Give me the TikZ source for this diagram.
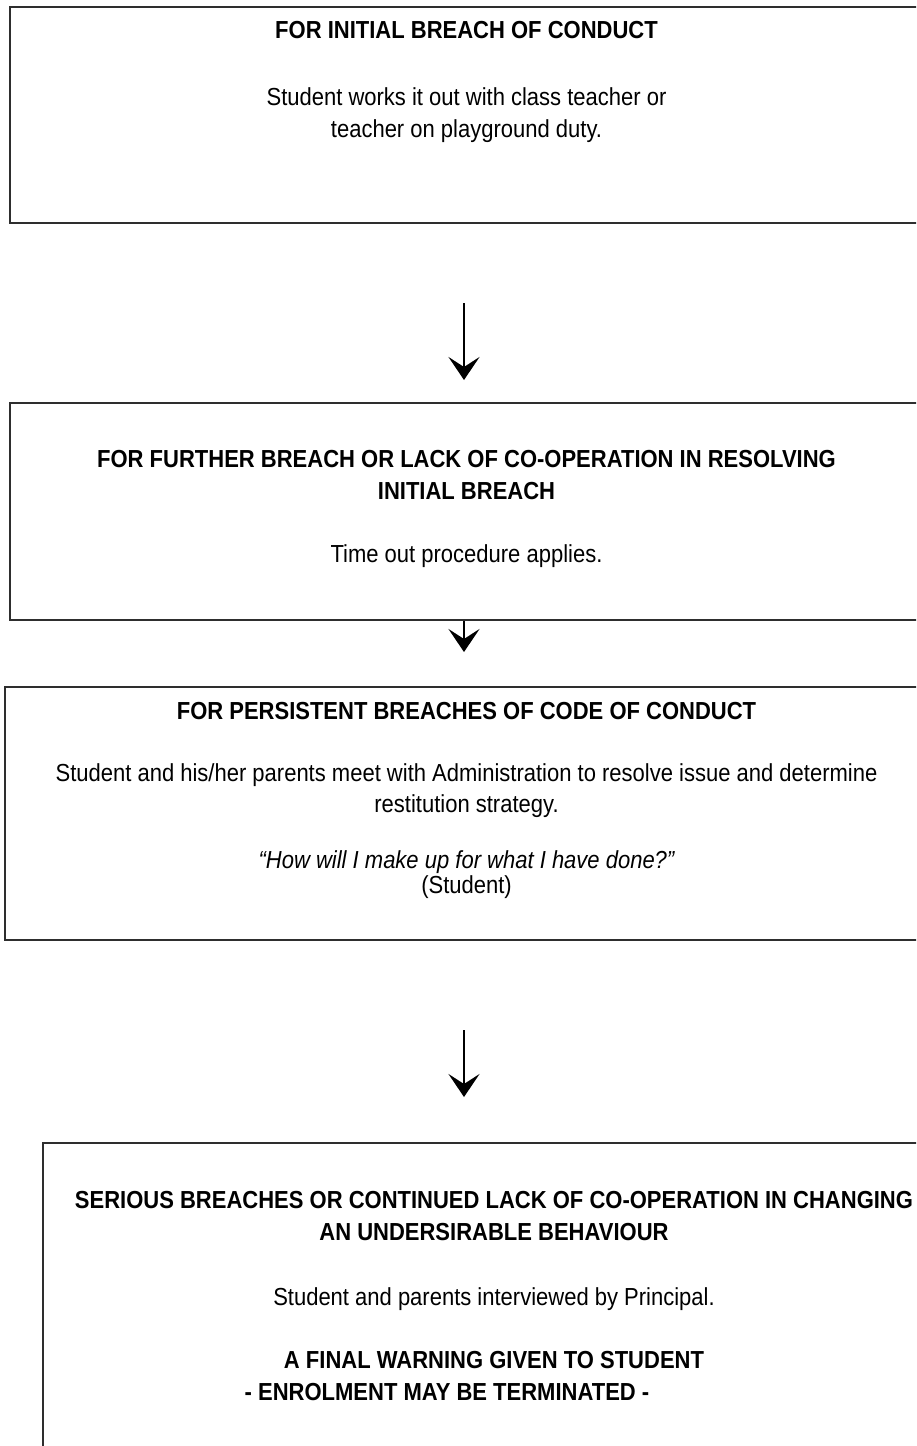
\documentclass[tikz,border=0pt]{standalone}
\usepackage{fontspec}
\setmainfont{Liberation Sans}
\usetikzlibrary{arrows.meta}
\newcommand{\vst}[1]{\scalebox{1}[1.12]{#1}}
\begin{document}
\begin{tikzpicture}[x=1pt,y=-1pt,
  box/.style={draw=black!82, line width=2.3pt, anchor=north west, inner sep=0pt, minimum width=930pt},
  txt/.style={anchor=base, inner sep=0pt, font=\fontsize{22}{32}\selectfont},
  hd/.style={anchor=base, inner sep=0pt, font=\fontsize{22}{32}\selectfont\bfseries},
  arr/.style={line width=2.8pt, -{Stealth[length=23pt,width=31pt,inset=10pt]}}]
\clip (0,0) rectangle (916,1446);
\fill[white] (0,0) rectangle (916,1446);
% boxes
\node[box, minimum height=216pt] (b1) at (9,6) {};
\node[box, minimum height=217pt] (b2) at (9,402) {};
\node[box, minimum height=253pt] (b3) at (4,686) {};
\node[box, minimum height=330pt] (b4) at (42,1142) {};
% box 1 text
\node[hd]  (t1a) at (466.5,38)  {\vst{FOR INITIAL BREACH OF CONDUCT}};
\node[txt] (t1b) at (466.5,105) {\vst{Student works it out with class teacher or}};
\node[txt] (t1c) at (466.5,137) {\vst{teacher on playground duty.}};
% box 2 text
\node[hd]  (t2a) at (466.5,467) {\vst{FOR FURTHER BREACH OR LACK OF CO-OPERATION IN RESOLVING}};
\node[hd]  (t2b) at (466.5,499) {\vst{INITIAL BREACH}};
\node[txt] (t2c) at (466.5,562) {\vst{Time out procedure applies.}};
% box 3 text
\node[hd]  (t3a) at (466.5,719) {\vst{FOR PERSISTENT BREACHES OF CODE OF CONDUCT}};
\node[txt] (t3b) at (466.5,781) {\vst{Student and his/her parents meet with Administration to resolve issue and determine}};
\node[txt] (t3c) at (466.5,812) {\vst{restitution strategy.}};
\node[txt] (t3d) at (466.5,868) {\vst{\itshape “How will I make up for what I have done?”}};
\node[txt] (t3e) at (466.5,893) {\vst{(Student)}};
% box 4 text
\node[hd]  (t4a) at (494,1208) {\vst{SERIOUS BREACHES OR CONTINUED LACK OF CO-OPERATION IN CHANGING}};
\node[hd]  (t4b) at (494,1240) {\vst{AN UNDERSIRABLE BEHAVIOUR}};
\node[txt] (t4c) at (494,1305) {\vst{Student and parents interviewed by Principal.}};
\node[hd]  (t4d) at (494,1368) {\vst{A FINAL WARNING GIVEN TO STUDENT}};
\node[hd]  (t4e) at (447,1400) {\vst{- ENROLMENT MAY BE TERMINATED -}};
% arrows
\coordinate (a1s) at (464,303);
\coordinate (a1e) at (464,380);
\coordinate (a2e) at (464,652);
\coordinate (a3s) at (464,1030);
\coordinate (a3e) at (464,1097);
\draw[arr] (a1s) -- (a1e);
\draw[arr] (b2.south -| a2e) -- (a2e);
\draw[arr] (a3s) -- (a3e);
\end{tikzpicture}
\end{document}
